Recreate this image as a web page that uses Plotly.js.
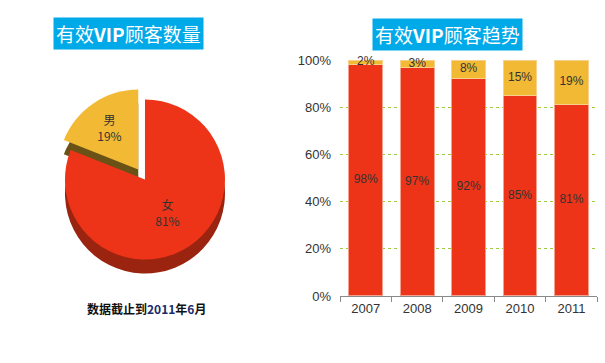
<!DOCTYPE html>
<html>
<head>
<meta charset="utf-8">
<script src="https://cdn.plot.ly/plotly-3.0.1.min.js"></script>
<style>html,body{margin:0;padding:0;background:#fff;}#chart{width:605px;height:363px;}</style>
</head>
<body>
<div id="chart"></div>
<script>
// Pie data
var pieLabels = ['女', '男'];
var pieValues = [81, 19];

// Bar data
var years = ['2007', '2008', '2009', '2010', '2011'];
var female = [98, 97, 92, 85, 81];
var male = [2, 3, 8, 15, 19];
var yTickVals = [0, 20, 40, 60, 80, 100];
var yTickText = ['0%', '20%', '40%', '60%', '80%', '100%'];

var RED = '#EE3418', YEL = '#F2B935';
var fontCJK = '"Noto Sans CJK SC", "Liberation Sans", Arial, sans-serif';
var fontLat = '"Liberation Sans", Arial, sans-serif';

var traces = [];

// depth (side) of the pie
traces.push({
  type: 'pie', labels: pieLabels, values: pieValues, sort: false,
  direction: 'clockwise', rotation: 0, pull: [0, 0.15],
  marker: {colors: ['#9A2410', '#6A5216'], line: {width: 0}},
  textinfo: 'none', hoverinfo: 'skip',
  domain: {x: [0.0876, 0.3917], y: [0.2135, 0.7204]}
});
// top face
traces.push({
  type: 'pie', labels: pieLabels, values: pieValues, sort: false,
  direction: 'clockwise', rotation: 0, pull: [0, 0.15],
  marker: {colors: [RED, YEL], line: {width: 0}},
  texttemplate: '%{label}<br>%{percent:.0%}', textposition: 'inside',
  insidetextfont: {family: fontCJK, size: 12, color: '#333'},
  domain: {x: [0.0876, 0.3917], y: [0.2521, 0.7590]}
});

traces.push({
  type: 'bar', x: years, y: female, xaxis: 'x', yaxis: 'y',
  marker: {color: RED, line: {color: '#F7A08E', width: 1}}, hoverinfo: 'skip'
});
traces.push({
  type: 'bar', x: years, y: male, xaxis: 'x', yaxis: 'y',
  marker: {color: YEL, line: {color: '#F7D08E', width: 1}}, hoverinfo: 'skip'
});
// labels
traces.push({
  type: 'scatter', mode: 'text', x: years,
  y: female.map(function(v){return v/2;}),
  text: female.map(function(v){return v + '%';}),
  textfont: {family: fontLat, size: 12, color: '#333'},
  xaxis: 'x', yaxis: 'y', hoverinfo: 'skip', cliponaxis: false
});
traces.push({
  type: 'scatter', mode: 'text', x: years,
  y: male.map(function(v, i){return female[i] + v/2;}),
  text: male.map(function(v){return v + '%';}),
  textfont: {family: fontLat, size: 12, color: '#333'},
  xaxis: 'x', yaxis: 'y', hoverinfo: 'skip', cliponaxis: false
});

var layout = {
  width: 605, height: 363,
  margin: {l: 0, r: 0, t: 0, b: 0},
  paper_bgcolor: '#fff', plot_bgcolor: '#fff',
  showlegend: false, barmode: 'stack', bargap: 0.34,
  xaxis: {
    domain: [0.562, 0.987], type: 'category',
    showline: true, linecolor: '#8a8a8a', linewidth: 1,
    ticks: 'outside', tickson: 'boundaries', ticklen: 5, tickcolor: '#8a8a8a',
    showgrid: false, zeroline: false,
    tickfont: {family: fontLat, size: 13, color: '#333'}
  },
  yaxis: {
    domain: [0.1846, 0.8347], range: [0, 100],
    tickmode: 'array', tickvals: yTickVals, ticktext: yTickText,
    showline: false, zeroline: false,
    showgrid: true, gridcolor: '#9CCB3E', griddash: 'dot', gridwidth: 1,
    ticks: '', ticklabelstandoff: 8,
    tickfont: {family: fontLat, size: 13, color: '#333'}
  },
  annotations: [
    {text: '有效<b>VIP</b>顾客数量', xref: 'paper', yref: 'paper',
     x: 128.5/605, y: 1 - 33.5/363, xanchor: 'center', yanchor: 'middle', showarrow: false,
     bgcolor: '#00A9E8', borderpad: 2,
     font: {family: fontCJK, size: 19, color: '#fff'}},
    {text: '有效<b>VIP</b>顾客趋势', xref: 'paper', yref: 'paper',
     x: 447/605, y: 1 - 34.5/363, xanchor: 'center', yanchor: 'middle', showarrow: false,
     bgcolor: '#00A9E8', borderpad: 2,
     font: {family: fontCJK, size: 19, color: '#fff'}},
    {text: '<b>数据截止到<span style="color:#1a2a6a">2011</span>年<span style="color:#1a2a6a">6</span>月</b>',
     xref: 'paper', yref: 'paper', x: 146/605, y: 1 - 308/363,
     xanchor: 'center', yanchor: 'middle', showarrow: false,
     font: {family: fontCJK, size: 12, color: '#111'}}
  ]
};

Plotly.newPlot('chart', traces, layout, {staticPlot: true});
</script>
</body>
</html>
